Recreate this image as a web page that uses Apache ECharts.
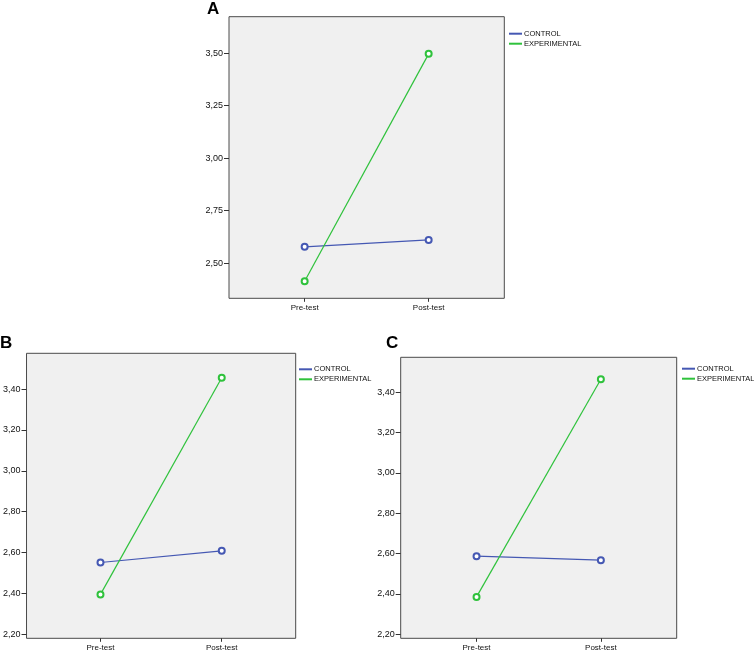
<!DOCTYPE html>
<html><head><meta charset="utf-8">
<script src="https://cdn.jsdelivr.net/npm/echarts@6/dist/echarts.min.js"></script>
<style>html,body{margin:0;padding:0;background:#fff}#c{width:754px;height:652px}</style>
</head><body><div id="c"></div>
<script>
var categories = ['Pre-test', 'Post-test'];
var seriesNames = ['CONTROL', 'EXPERIMENTAL'];
var panelLabels = ['A', 'B', 'C'];
var controlA = [2.578, 2.611];
var experimentalA = [2.414, 3.497];
var controlB = [2.551, 2.608];
var experimentalB = [2.395, 3.455];
var controlC = [2.587, 2.567];
var experimentalC = [2.385, 3.463];
var yTicksA = [2.50, 2.75, 3.00, 3.25, 3.50];
var yTicksBC = [2.20, 2.40, 2.60, 2.80, 3.00, 3.20, 3.40];

var FONT = 'Liberation Sans, Arial, sans-serif';
var colors = ['#4558b3', '#2fc23c'];
var grids = [
  {left: 229, top: 16.7, width: 275.3, height: 281.6, ymin: 2.333, ymax: 3.674, ticks: yTicksA,
   ctrl: controlA, exp: experimentalA, title: [207, 1], legend: [509, 28.7]},
  {left: 20, top: 353.3, width: 275.7, height: 285, ymin: 2.18, ymax: 3.575, ticks: yTicksBC,
   ctrl: controlB, exp: experimentalB, title: [0, 335], legend: [299, 364.3]},
  {left: 400.7, top: 357.3, width: 276, height: 281, ymin: 2.18, ymax: 3.572, ticks: yTicksBC,
   ctrl: controlC, exp: experimentalC, title: [386, 335], legend: [682, 363.7]}
];

var option = {animation: false, grid: [], xAxis: [], yAxis: [], series: [], title: [], legend: []};
grids.forEach(function (g, i) {
  option.grid.push({left: g.left, top: g.top, width: g.width, height: g.height, show: true,
    backgroundColor: '#f0f0f0', borderColor: '#4a4a4a', borderWidth: 1, containLabel: false});
  option.xAxis.push({type: 'value', gridIndex: i, min: -0.61, max: 1.61, position: 'bottom',
    axisLine: {show: false, onZero: false}, splitLine: {show: false},
    axisTick: {show: true, length: 3.5, customValues: [0, 1], lineStyle: {color: '#333', width: 1}},
    axisLabel: {customValues: [0, 1], margin: 5, fontSize: 8, color: '#111', fontFamily: FONT,
      formatter: function (v) { return categories[Math.round(v)]; }}});
  option.yAxis.push({type: 'value', gridIndex: i, min: g.ymin, max: g.ymax, position: 'left',
    axisLine: {show: false, onZero: false}, splitLine: {show: false},
    axisTick: {show: true, length: 5, customValues: g.ticks, lineStyle: {color: '#333', width: 1}},
    axisLabel: {customValues: g.ticks, margin: 6, fontSize: 9, color: '#111', fontFamily: FONT,
      formatter: function (v) { return v.toFixed(2).replace('.', ','); }}});
  [g.ctrl, g.exp].forEach(function (vals, s) {
    option.series.push({type: 'line', name: seriesNames[s], xAxisIndex: i, yAxisIndex: i,
      data: vals.map(function (v, k) { return [k, v]; }),
      symbol: 'emptyCircle', symbolSize: 6, color: colors[s],
      lineStyle: {width: 1.2, color: colors[s]},
      itemStyle: {color: colors[s], borderWidth: 0.7}});
  });
  option.title.push({text: panelLabels[i], left: g.title[0], top: g.title[1], padding: 0,
    textStyle: {fontSize: 17, fontWeight: 'bold', fontFamily: FONT, color: '#000'}});
  option.legend.push({orient: 'vertical', left: g.legend[0], top: g.legend[1], padding: 0,
    itemGap: 0, itemWidth: 13, itemHeight: 2, icon: 'rect', data: seriesNames,
    selectedMode: false, itemStyle: {borderWidth: 0},
    textStyle: {fontSize: 7.5, lineHeight: 10, color: '#111', fontFamily: FONT, padding: [0, 0, 0, -3]}});
});

var chart = echarts.init(document.getElementById('c'), null, {renderer: 'canvas'});
chart.setOption(option);
</script></body></html>
